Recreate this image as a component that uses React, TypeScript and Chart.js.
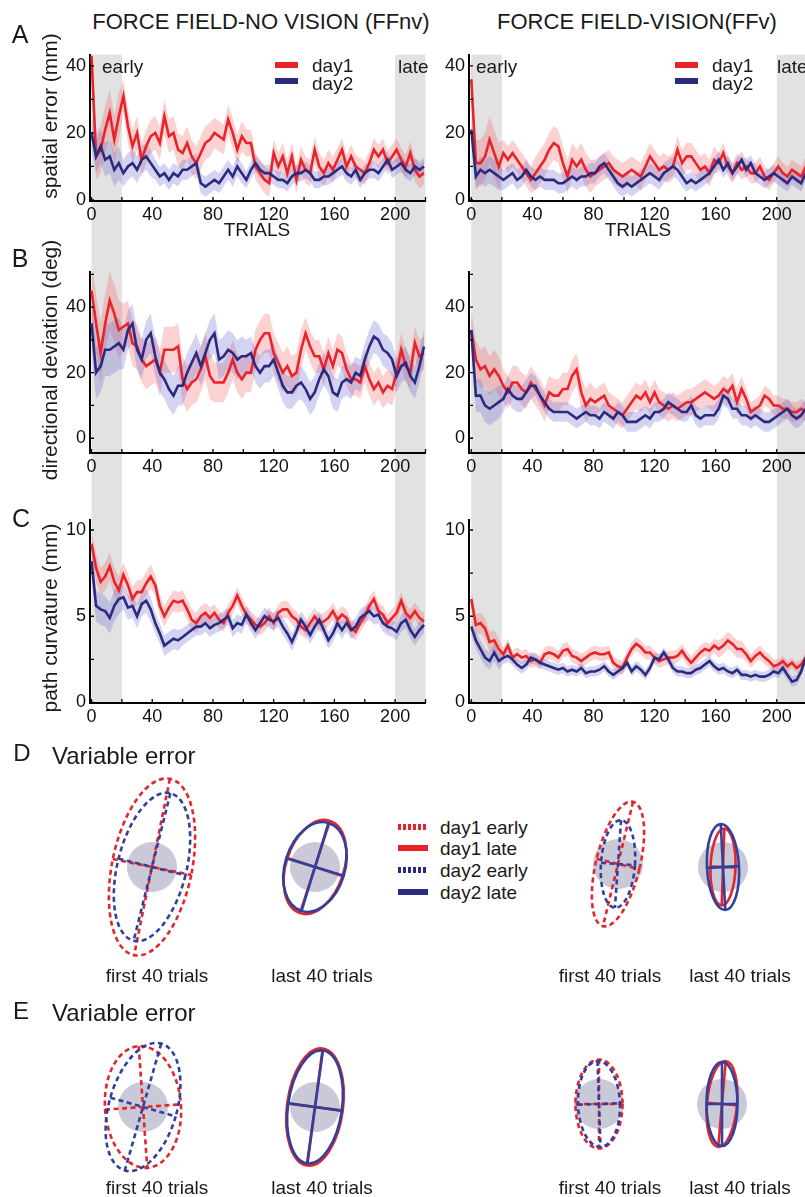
import React, { useEffect, useRef } from "react";
import { Chart, registerables } from "chart.js";

Chart.register(...registerables);

const FONT = "'Liberation Sans', Arial, Helvetica, sans-serif";
const RED = "#e8232a";
const BLUE = "#2a2a7e";
const RED_BAND = "rgba(240, 90, 90, 0.28)";
const BLUE_BAND = "rgba(100, 100, 210, 0.28)";
const GRAY = "#e2e2e2";
const TEXT = "#1a1a1a";
const ELL_RED = "#e3262b";
const ELL_BLUE = "#30409c";
const TARGET_COLOR = "#c9c9d8";

// ---------------- data ----------------
const TRIALS = [
  0, 3, 6, 9, 12, 15, 18, 21, 24, 27,
  30, 33, 36, 39, 42, 45, 48, 51, 54, 57,
  60, 63, 66, 69, 72, 75, 78, 81, 84, 87,
  90, 93, 96, 99, 102, 105, 108, 111, 114, 117,
  120, 123, 126, 129, 132, 135, 138, 141, 144, 147,
  150, 153, 156, 159, 162, 165, 168, 171, 174, 177,
  180, 183, 186, 189, 192, 195, 198, 201, 204, 207,
  210, 213, 216, 219,
];
const X_TICKS = [0, 40, 80, 120, 160, 200];
const X_MINOR = [20, 60, 100, 140, 180, 220];
const GRAY_SPANS = [[0, 20], [200, 220]];

// A: spatial error (mm)
const SPATIAL_FFNV_DAY1 = [
  43, 13, 15, 21, 26, 18, 25, 31, 22, 16,
  20, 12, 16, 19, 20, 17, 25, 19, 20, 15,
  14, 17, 13, 11, 14, 17, 18, 20, 19, 18,
  24, 20, 15, 19, 17, 17, 10, 8, 6, 5,
  14, 10, 13, 8, 13, 6, 12, 9, 8, 15,
  10, 8, 11, 9, 12, 15, 10, 13, 10, 9,
  8, 11, 15, 13, 15, 11, 13, 15, 12, 10,
  14, 9, 7, 8,
];
const SPATIAL_FFNV_DAY2 = [
  20, 13, 16, 12, 13, 9, 11, 8, 10, 11,
  9, 12, 13, 11, 9, 7, 8, 6, 8, 7,
  9, 9, 10, 11, 5, 4, 5, 6, 5, 7,
  9, 7, 10, 8, 6, 9, 11, 9, 8, 8,
  7, 6, 6, 5, 7, 8, 8, 9, 8, 6,
  6, 7, 7, 8, 9, 10, 8, 7, 9, 6,
  8, 9, 9, 8, 10, 12, 9, 10, 11, 9,
  8, 10, 9, 10,
];
const SPATIAL_FFV_DAY1 = [
  36, 11, 11, 13, 18, 14, 10, 14, 12, 14,
  12, 10, 8, 6, 8, 10, 12, 15, 17, 16,
  11, 7, 12, 10, 12, 9, 7, 8, 9, 10,
  11, 9, 8, 7, 8, 9, 8, 7, 10, 13,
  11, 9, 10, 9, 10, 15, 11, 13, 13, 11,
  9, 10, 8, 12, 11, 14, 10, 8, 11, 9,
  10, 8, 8, 10, 7, 6, 8, 10, 8, 7,
  9, 8, 7, 10,
];
const SPATIAL_FFV_DAY2 = [
  21, 7, 9, 8, 9, 8, 7, 6, 7, 8,
  6, 7, 9, 7, 6, 7, 6, 6, 6, 5,
  5, 6, 7, 6, 7, 7, 8, 8, 10, 11,
  9, 7, 5, 4, 5, 4, 5, 6, 7, 8,
  7, 6, 8, 9, 10, 9, 7, 5, 6, 5,
  6, 7, 8, 10, 12, 9, 11, 8, 10, 12,
  9, 11, 8, 7, 6, 7, 8, 7, 6, 5,
  7, 6, 5, 8,
];

// B: directional deviation (deg)
const DIRDEV_FFNV_DAY1 = [
  45, 35, 26, 35, 42, 38, 33, 34, 35, 29,
  28, 24, 22, 23, 24, 20, 27, 27, 27, 28,
  18, 15, 17, 18, 21, 25, 19, 17, 17, 17,
  20, 24, 20, 18, 20, 20, 27, 30, 32, 32,
  26, 23, 20, 22, 19, 20, 27, 32, 28, 25,
  25, 21, 26, 22, 27, 26, 21, 18, 18, 17,
  22, 18, 15, 17, 14, 16, 15, 20, 27, 22,
  20, 29, 25, 26,
];
const DIRDEV_FFNV_DAY2 = [
  35, 20, 22, 27, 27, 28, 29, 27, 33, 35,
  27, 24, 30, 32, 25, 20, 18, 15, 13, 16,
  16, 20, 23, 26, 22, 26, 30, 32, 24, 25,
  27, 26, 24, 25, 25, 26, 22, 20, 22, 22,
  24, 20, 16, 14, 14, 16, 17, 15, 12, 14,
  18, 21, 19, 14, 13, 17, 18, 17, 20, 19,
  24, 28, 31, 30, 27, 26, 24, 19, 22, 23,
  19, 17, 22, 28,
];
const DIRDEV_FFV_DAY1 = [
  33, 24, 21, 22, 19, 21, 19, 16, 14, 17,
  17, 15, 14, 17, 15, 13, 10, 14, 13, 13,
  15, 15, 19, 21, 14, 10, 12, 11, 12, 13,
  10, 9, 8, 7, 9, 11, 13, 12, 14, 11,
  14, 11, 10, 9, 10, 9, 10, 11, 11, 12,
  13, 14, 13, 12, 13, 15, 14, 16, 11, 15,
  12, 8, 9, 10, 13, 12, 10, 10, 9, 9,
  8, 8, 9, 8,
];
const DIRDEV_FFV_DAY2 = [
  33, 13, 13, 10, 9, 10, 11, 12, 15, 13,
  12, 12, 14, 16, 16, 13, 11, 9, 8, 8,
  8, 8, 7, 6, 7, 8, 7, 7, 6, 8,
  7, 6, 8, 7, 5, 5, 5, 6, 7, 6,
  8, 8, 9, 11, 10, 9, 8, 8, 10, 7,
  6, 7, 7, 7, 9, 13, 12, 9, 9, 7,
  7, 6, 7, 6, 5, 5, 6, 7, 8, 9,
  7, 6, 7, 9,
];

// C: path curvature (mm)
const CURV_FFNV_DAY1 = [
  9.2, 7.8, 7.0, 7.3, 7.9, 7.0, 6.5, 7.4, 6.8, 6.0,
  6.4, 6.4, 6.9, 7.3, 6.8, 5.6, 5.0, 5.5, 5.9, 5.8,
  5.9, 5.4, 4.8, 4.6, 5.0, 5.2, 4.9, 5.2, 4.8, 4.6,
  5.2, 5.6, 6.2, 5.6, 5.1, 4.8, 4.5, 4.4, 4.6, 5.0,
  4.6, 5.2, 5.4, 5.4, 5.0, 4.8, 4.4, 4.2, 4.6, 5.0,
  4.6, 4.7, 4.9, 5.3, 4.8, 5.1, 4.9, 4.3, 4.1, 4.6,
  5.0, 5.6, 6.0, 5.3, 5.1, 4.6, 4.9, 5.2, 5.9, 5.2,
  4.9, 5.3, 4.9, 4.7,
];
const CURV_FFNV_DAY2 = [
  8.2, 5.6, 5.4, 5.3, 4.9, 5.6, 6.0, 6.1, 5.5, 5.6,
  5.0, 5.7, 5.9, 5.4, 4.6, 4.0, 3.3, 3.5, 3.7, 3.6,
  3.8, 4.0, 4.2, 4.4, 4.4, 4.6, 4.3, 4.5, 4.6, 4.8,
  5.0, 4.3, 4.6, 4.5, 5.1, 4.6, 4.2, 4.6, 5.0, 4.8,
  4.7, 4.9, 4.4, 4.0, 3.5, 4.1, 4.8, 4.4, 3.9, 4.4,
  4.8, 4.2, 3.6, 4.0, 4.6, 4.2, 4.6, 4.2, 4.4, 4.9,
  5.1, 5.3, 5.0, 5.1, 4.6, 4.4, 4.3, 4.1, 4.6, 4.8,
  4.2, 3.8, 4.2, 4.5,
];
const CURV_FFV_DAY1 = [
  6.0, 4.5, 4.6, 4.3, 3.5, 3.6, 3.1, 2.8, 3.3, 2.6,
  2.8, 2.6, 2.7, 2.4, 2.5, 2.3, 2.8, 2.9, 2.8, 2.6,
  3.0, 3.1, 2.7, 2.6, 2.4, 2.6, 2.8, 2.9, 2.8, 2.8,
  2.9, 2.3, 2.1, 2.0, 2.6, 3.1, 3.4, 3.2, 2.9, 2.9,
  2.6, 2.4, 2.5, 2.6, 2.6, 2.7, 3.0, 2.6, 2.3, 2.6,
  2.9, 3.1, 3.0, 3.3, 3.1, 3.3, 3.6, 3.4, 3.1, 3.1,
  2.8, 2.4, 2.7, 2.9, 2.6, 2.4, 2.1, 2.2, 2.4, 2.1,
  2.3, 2.0, 2.2, 2.6,
];
const CURV_FFV_DAY2 = [
  4.4, 3.6, 3.1, 2.6, 2.4, 2.9, 2.4, 2.6, 2.7, 2.5,
  2.2, 2.0, 2.2, 2.6, 2.5, 2.3, 2.2, 2.1, 2.0, 1.9,
  2.0, 1.8, 1.9, 1.8, 2.0, 1.7, 1.8, 1.8, 1.9, 2.1,
  1.8, 1.6, 1.8, 2.0, 2.3, 1.8, 2.1, 1.9, 1.6, 2.0,
  2.6, 2.5, 2.9, 2.5, 2.0, 1.8, 1.8, 1.7, 1.7, 1.9,
  2.0, 2.2, 2.4, 2.1, 1.9, 2.0, 1.8, 1.7, 1.9, 1.6,
  1.6, 1.5, 1.6, 1.5, 1.5, 1.6, 1.8, 1.7, 2.0, 1.6,
  1.2, 1.3, 1.8, 2.6,
];

// half-width of the shaded band, one value per block of 20 trials
const SPATIAL_FFNV_DAY1_SE = [7, 5, 5, 5, 4.5, 4, 4, 4, 3.5, 3.5, 3.5];
const SPATIAL_FFNV_DAY2_SE = [5, 4, 3, 3, 3, 2.5, 2.5, 2.5, 2.5, 2.5, 2.5];
const SPATIAL_FFV_DAY1_SE = [7, 4, 5, 5, 4, 4, 4, 4, 3, 3, 3];
const SPATIAL_FFV_DAY2_SE = [4, 3, 3, 3, 3, 3, 3, 2.5, 2.5, 2.5, 2.5];
const DIRDEV_FFNV_DAY1_SE = [9, 7, 7, 7, 6, 6, 6, 5, 5, 5, 5];
const DIRDEV_FFNV_DAY2_SE = [8, 6, 6, 6, 6, 5, 5, 5, 5, 5, 5];
const DIRDEV_FFV_DAY1_SE = [6, 5, 5, 5, 4, 4, 4, 4, 4, 3, 3];
const DIRDEV_FFV_DAY2_SE = [5, 4, 3, 3, 3, 3, 3, 3, 3, 3, 3];
const CURV_FFNV_DAY1_SE = [0.8, 0.7, 0.6, 0.6, 0.5, 0.5, 0.5, 0.5, 0.5, 0.5, 0.5];
const CURV_FFNV_DAY2_SE = [0.9, 0.7, 0.6, 0.5, 0.5, 0.5, 0.5, 0.5, 0.5, 0.5, 0.5];
const CURV_FFV_DAY1_SE = [0.6, 0.4, 0.4, 0.4, 0.4, 0.4, 0.4, 0.4, 0.5, 0.4, 0.3];
const CURV_FFV_DAY2_SE = [0.5, 0.35, 0.3, 0.3, 0.3, 0.3, 0.3, 0.3, 0.3, 0.3, 0.3];

// Variable-error ellipses (mm, tilt in deg clockwise from vertical)
// order: FFnv first 40, FFnv last 40, FFv first 40, FFv last 40
const TARGET_RADIUS = 5;
const D_DAY1_MAJOR = [18, 9.7, 12.8, 7.7];
const D_DAY1_MINOR = [8, 5.8, 4.4, 2.5];
const D_DAY1_TILT = [11.5, 18, 13.6, 2];
const D_DAY2_MAJOR = [15.2, 9.2, 8.8, 8.6];
const D_DAY2_MINOR = [6.9, 6.0, 3.4, 3.2];
const D_DAY2_TILT = [14, 17, 4, -3];
const E_DAY1_MAJOR = [12.2, 11.8, 8.9, 8.6];
const E_DAY1_MINOR = [7.6, 5.6, 4.7, 3.0];
const E_DAY1_TILT = [-4, 7.5, 0, 5];
const E_DAY2_MAJOR = [13.2, 11.4, 8.6, 8.4];
const E_DAY2_MINOR = [6.8, 5.4, 4.2, 3.1];
const E_DAY2_TILT = [16, 8, -2, 0];
const GROUP_LABELS = ["first 40 trials", "last 40 trials", "first 40 trials", "last 40 trials"];

// ---------------- layout ----------------
const ROWS = [
  { key: "A", top: 40, height: 215, padTop: 13, axisH: 54, yMin: -0.3, yMax: 43.3, yTicks: [0, 20, 40], yMinor: [10, 30], fromChartTop: true, toChartBottom: false },
  { key: "B", top: 255, height: 235, padTop: 17, axisH: 37, yMin: -4.5, yMax: 50.7, yTicks: [0, 20, 40], yMinor: [10, 30, 50], fromChartTop: false, toChartBottom: false },
  { key: "C", top: 490, height: 250, padTop: 30, axisH: 37, yMin: -0.03, yMax: 10.58, yTicks: [0, 5, 10], yMinor: [2.5, 7.5], fromChartTop: false, toChartBottom: true },
];
const COLS = [
  { key: "L", left: 20, width: 420, axisW: 70, padRight: 14.5, xMin: -1, xMax: 220 },
  { key: "R", left: 440, width: 365, axisW: 29, padRight: 0, xMin: -1.5, xMax: 218.5 },
];
const SERIES: any = {
  AL: [SPATIAL_FFNV_DAY1, SPATIAL_FFNV_DAY2, SPATIAL_FFNV_DAY1_SE, SPATIAL_FFNV_DAY2_SE],
  AR: [SPATIAL_FFV_DAY1, SPATIAL_FFV_DAY2, SPATIAL_FFV_DAY1_SE, SPATIAL_FFV_DAY2_SE],
  BL: [DIRDEV_FFNV_DAY1, DIRDEV_FFNV_DAY2, DIRDEV_FFNV_DAY1_SE, DIRDEV_FFNV_DAY2_SE],
  BR: [DIRDEV_FFV_DAY1, DIRDEV_FFV_DAY2, DIRDEV_FFV_DAY1_SE, DIRDEV_FFV_DAY2_SE],
  CL: [CURV_FFNV_DAY1, CURV_FFNV_DAY2, CURV_FFNV_DAY1_SE, CURV_FFNV_DAY2_SE],
  CR: [CURV_FFV_DAY1, CURV_FFV_DAY2, CURV_FFV_DAY1_SE, CURV_FFV_DAY2_SE],
};
const D_CENTERS = [[152, 867], [315, 867], [618, 864], [723, 867]];
const E_CENTERS = [[143, 1107], [315, 1107], [599, 1104], [722, 1104]];
const D_LABEL_Y = 975;
const E_LABEL_Y = 1187;
const LABEL_X = [157, 322, 610, 740];

// ---------------- plugins ----------------
const grayBands = {
  id: "grayBands",
  beforeDraw(chart: any, _a: any, opts: any) {
    const { ctx, chartArea, height } = chart;
    const xs = chart.scales.x;
    const top = opts.fromChartTop ? chartArea.top : 0;
    const bottom = opts.toChartBottom ? chartArea.bottom : height;
    ctx.save();
    ctx.fillStyle = GRAY;
    for (const [a, b] of GRAY_SPANS) {
      const x1 = xs.getPixelForValue(a);
      const x2 = xs.getPixelForValue(b);
      ctx.fillRect(x1, top, x2 - x1, bottom - top);
    }
    ctx.restore();
  },
};

const inwardTicks = {
  id: "inwardTicks",
  afterDraw(chart: any, _a: any, opts: any) {
    const { ctx, chartArea } = chart;
    const xs = chart.scales.x;
    const ys = chart.scales.y;
    ctx.save();
    ctx.strokeStyle = "#000";
    ctx.lineWidth = 1.3;
    ctx.beginPath();
    for (const v of opts.x) {
      if (v < xs.min || v > xs.max) continue;
      const p = xs.getPixelForValue(v);
      ctx.moveTo(p, chartArea.bottom);
      ctx.lineTo(p, chartArea.bottom - 4);
    }
    for (const v of opts.y) {
      if (v < ys.min || v > ys.max) continue;
      const p = ys.getPixelForValue(v);
      ctx.moveTo(chartArea.left, p);
      ctx.lineTo(chartArea.left + 4, p);
    }
    ctx.stroke();
    ctx.restore();
  },
};

const ellipsePlugin = {
  id: "ellipses",
  afterDraw(chart: any, _a: any, opts: any) {
    const { ctx } = chart;
    const xs = chart.scales.x;
    const ys = chart.scales.y;
    const k = Math.abs(xs.getPixelForValue(1) - xs.getPixelForValue(0));
    const cx = xs.getPixelForValue(0);
    const cy = ys.getPixelForValue(0);
    ctx.save();
    ctx.fillStyle = TARGET_COLOR;
    ctx.beginPath();
    ctx.arc(cx, cy, TARGET_RADIUS * k, 0, Math.PI * 2);
    ctx.fill();
    for (const e of opts.items) {
      const a = e.major * k;
      const b = e.minor * k;
      ctx.save();
      ctx.translate(cx, cy);
      ctx.rotate((e.tilt * Math.PI) / 180);
      ctx.strokeStyle = e.color;
      ctx.lineWidth = 2.6;
      ctx.setLineDash(e.dashed ? [5, 3.5] : []);
      ctx.beginPath();
      ctx.ellipse(0, 0, b, a, 0, 0, Math.PI * 2);
      ctx.stroke();
      ctx.beginPath();
      ctx.moveTo(0, -a);
      ctx.lineTo(0, a);
      ctx.moveTo(-b, 0);
      ctx.lineTo(b, 0);
      ctx.stroke();
      ctx.restore();
    }
    ctx.restore();
  },
};

// ---------------- components ----------------
function TrialPanel({ row, col }: any) {
  const ref = useRef<HTMLCanvasElement>(null);
  useEffect(() => {
    const [red, blue, redSe, blueSe] = SERIES[row.key + col.key];
    const pts = (vals: number[]) => TRIALS.map((t, i) => ({ x: t, y: vals[i] }));
    const band = (vals: number[], se: number[], s: number) =>
      TRIALS.map((t, i) => ({ x: t, y: vals[i] + s * se[Math.floor(t / 20)] }));
    const hidden = { borderWidth: 0, borderColor: "rgba(0,0,0,0)", pointRadius: 0 };
    const chart = new Chart(ref.current as HTMLCanvasElement, {
      type: "line",
      data: {
        datasets: [
          { label: "d1lo", data: band(red, redSe, -1), ...hidden, fill: false, order: 4 },
          { label: "d1hi", data: band(red, redSe, 1), ...hidden, fill: "-1", backgroundColor: RED_BAND, order: 4 },
          { label: "d2lo", data: band(blue, blueSe, -1), ...hidden, fill: false, order: 3 },
          { label: "d2hi", data: band(blue, blueSe, 1), ...hidden, fill: "-1", backgroundColor: BLUE_BAND, order: 3 },
          { label: "day1", data: pts(red), borderColor: RED, borderWidth: 2.6, pointRadius: 0, fill: false, order: 1 },
          { label: "day2", data: pts(blue), borderColor: BLUE, borderWidth: 2.6, pointRadius: 0, fill: false, order: 0 },
        ] as any,
      },
      options: {
        responsive: false,
        animation: false,
        events: [],
        layout: { padding: { top: row.padTop, right: col.padRight, left: 0, bottom: 0 } },
        elements: { line: { tension: 0 }, point: { radius: 0 } },
        plugins: {
          legend: { display: false },
          tooltip: { enabled: false },
          grayBands: { fromChartTop: row.fromChartTop, toChartBottom: row.toChartBottom },
          inwardTicks: { x: [...X_TICKS, ...X_MINOR], y: [...row.yTicks, ...row.yMinor] },
        } as any,
        scales: {
          x: {
            type: "linear",
            min: col.xMin,
            max: col.xMax,
            grid: { display: false, drawTicks: false },
            border: { display: true, color: "#000", width: 2 },
            ticks: { font: { family: FONT, size: 18 }, color: "#111", padding: 3, maxRotation: 0, autoSkip: false },
            afterBuildTicks: (s: any) => { s.ticks = X_TICKS.map((v) => ({ value: v })); },
            afterFit: (s: any) => { s.height = row.axisH; },
          },
          y: {
            type: "linear",
            min: row.yMin,
            max: row.yMax,
            grid: { display: false, drawTicks: false },
            border: { display: true, color: "#000", width: 2 },
            ticks: { font: { family: FONT, size: 18 }, color: "#111", padding: 4 },
            afterBuildTicks: (s: any) => { s.ticks = row.yTicks.map((v: number) => ({ value: v })); },
            afterFit: (s: any) => { s.width = col.axisW; },
          },
        } as any,
      },
      plugins: [grayBands, inwardTicks],
    });
    return () => chart.destroy();
  }, []);
  return (
    <canvas
      ref={ref}
      width={col.width}
      height={row.height}
      style={{ position: "absolute", left: col.left, top: row.top, width: col.width, height: row.height }}
    />
  );
}

const EW = 140;
const EH = 220;
function EllipseGroup({ center, items }: any) {
  const ref = useRef<HTMLCanvasElement>(null);
  useEffect(() => {
    const chart = new Chart(ref.current as HTMLCanvasElement, {
      type: "scatter",
      data: { datasets: [] },
      options: {
        responsive: false,
        animation: false,
        events: [],
        layout: { padding: 0 },
        plugins: { legend: { display: false }, tooltip: { enabled: false }, ellipses: { items } } as any,
        scales: {
          x: { type: "linear", min: -14, max: 14, display: false },
          y: { type: "linear", min: -22, max: 22, display: false },
        },
      },
      plugins: [ellipsePlugin],
    });
    return () => chart.destroy();
  }, []);
  return (
    <canvas
      ref={ref}
      width={EW}
      height={EH}
      style={{ position: "absolute", left: center[0] - EW / 2, top: center[1] - EH / 2, width: EW, height: EH }}
    />
  );
}

function groupItems(i: number, m1: number[], n1: number[], t1: number[], m2: number[], n2: number[], t2: number[]) {
  const dashed = i === 0 || i === 2;
  return [
    { major: m1[i], minor: n1[i], tilt: t1[i], color: ELL_RED, dashed },
    { major: m2[i], minor: n2[i], tilt: t2[i], color: ELL_BLUE, dashed },
  ];
}

function Txt({ x, y, size, children, center, rotate, color }: any) {
  const tx = center || rotate ? "-50%" : "0";
  return (
    <div
      style={{
        position: "absolute",
        left: x,
        top: y,
        fontSize: size,
        lineHeight: 1,
        whiteSpace: "nowrap",
        color: color || TEXT,
        transform: `translate(${tx}, -50%)${rotate ? " rotate(-90deg)" : ""}`,
      }}
    >
      {children}
    </div>
  );
}

function Swatch({ x, y, w, color, dotted }: any) {
  return (
    <div
      style={{
        position: "absolute",
        left: x,
        top: y - 3,
        width: w,
        height: 6,
        background: dotted ? `repeating-linear-gradient(90deg, ${color} 0 3px, transparent 3px 5px)` : color,
      }}
    />
  );
}

export default function App() {
  return (
    <div
      style={{
        position: "absolute",
        left: 0,
        top: 0,
        width: 805,
        height: 1197,
        overflow: "hidden",
        background: "#fff",
        fontFamily: FONT,
        color: TEXT,
      }}
    >
      {ROWS.map((r) => COLS.map((c) => <TrialPanel key={r.key + c.key} row={r} col={c} />))}
      {D_CENTERS.map((c, i) => (
        <EllipseGroup key={"D" + i} center={c} items={groupItems(i, D_DAY1_MAJOR, D_DAY1_MINOR, D_DAY1_TILT, D_DAY2_MAJOR, D_DAY2_MINOR, D_DAY2_TILT)} />
      ))}
      {E_CENTERS.map((c, i) => (
        <EllipseGroup key={"E" + i} center={c} items={groupItems(i, E_DAY1_MAJOR, E_DAY1_MINOR, E_DAY1_TILT, E_DAY2_MAJOR, E_DAY2_MINOR, E_DAY2_TILT)} />
      ))}

      <Txt x={261} y={22} size={22} center>FORCE FIELD-NO VISION (FFnv)</Txt>
      <Txt x={637} y={22} size={22} center>FORCE FIELD-VISION(FFv)</Txt>

      <Txt x={20} y={34} size={25} center>A</Txt>
      <Txt x={20} y={258} size={25} center>B</Txt>
      <Txt x={21} y={518} size={25} center>C</Txt>

      <Txt x={49} y={116} size={21} rotate>spatial error (mm)</Txt>
      <Txt x={49} y={360} size={21} rotate>directional deviation (deg)</Txt>
      <Txt x={49} y={618} size={21} rotate>path curvature (mm)</Txt>

      <Txt x={257} y={229} size={19} center>TRIALS</Txt>
      <Txt x={638} y={229} size={19} center>TRIALS</Txt>

      <Txt x={102} y={66} size={19}>early</Txt>
      <Txt x={398} y={66} size={19}>late</Txt>
      <Txt x={476} y={66} size={19}>early</Txt>
      <Txt x={777} y={66} size={19}>late</Txt>

      <Swatch x={275} y={65} w={23} color={RED} />
      <Swatch x={275} y={81} w={23} color={BLUE} />
      <Txt x={312} y={65} size={19}>day1</Txt>
      <Txt x={312} y={83} size={19}>day2</Txt>
      <Swatch x={675} y={65} w={23} color={RED} />
      <Swatch x={675} y={81} w={23} color={BLUE} />
      <Txt x={712} y={65} size={19}>day1</Txt>
      <Txt x={712} y={83} size={19}>day2</Txt>

      <Txt x={22} y={753} size={24} center>D</Txt>
      <Txt x={52} y={756} size={24}>Variable error</Txt>
      <Txt x={21} y={1011} size={24} center>E</Txt>
      <Txt x={52} y={1013} size={24}>Variable error</Txt>

      <Swatch x={398} y={827} w={30} color={RED} dotted />
      <Swatch x={398} y={848} w={30} color={RED} />
      <Swatch x={398} y={870} w={30} color={BLUE} dotted />
      <Swatch x={398} y={892} w={30} color={BLUE} />
      <Txt x={440} y={827} size={19}>day1 early</Txt>
      <Txt x={440} y={848} size={19}>day1 late</Txt>
      <Txt x={440} y={870} size={19}>day2 early</Txt>
      <Txt x={440} y={892} size={19}>day2 late</Txt>

      {GROUP_LABELS.map((t, i) => (
        <Txt key={"dl" + i} x={LABEL_X[i]} y={D_LABEL_Y} size={19} center>{t}</Txt>
      ))}
      {GROUP_LABELS.map((t, i) => (
        <Txt key={"el" + i} x={LABEL_X[i]} y={E_LABEL_Y} size={19} center>{t}</Txt>
      ))}
    </div>
  );
}
